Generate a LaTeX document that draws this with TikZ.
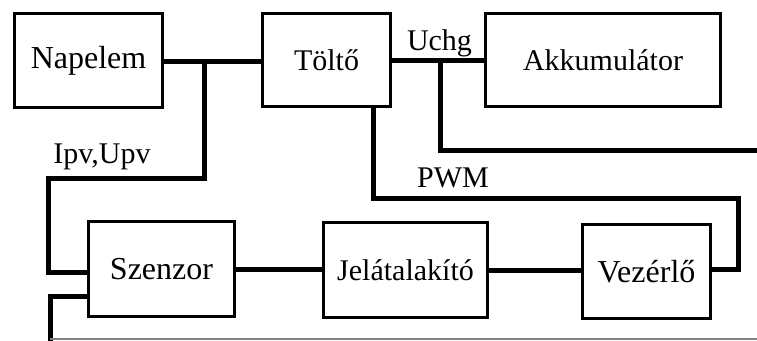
\documentclass[tikz,border=0pt]{standalone}
\usepackage{fontspec}
\setmainfont{Liberation Serif}
\begin{document}
\begin{tikzpicture}[x=1pt,y=-1pt,
  block/.style={draw=black,line width=3pt,rectangle,inner sep=0pt,
    font=\fontsize{30}{32}\selectfont},
  bigtext/.style={font=\fontsize{32}{34}\selectfont},
  wire/.style={line width=5pt,line join=miter,line cap=butt},
  lbl/.style={anchor=base,inner sep=0pt,font=\fontsize{30}{32}\selectfont}]
\useasboundingbox (0,0) rectangle (757,340);
\clip (0,0) rectangle (757,340);

% blocks
\node[block,bigtext,minimum width=148pt,minimum height=94pt] (nap) at (88.5,60.5) {Napelem};
\node[block,minimum width=128pt,minimum height=93pt] (tol) at (326.5,60) {Töltő};
\node[block,minimum width=235pt,minimum height=93pt] (akk) at (603,60) {Akkumulátor};
\node[block,bigtext,minimum width=146pt,minimum height=95pt] (szen) at (161.5,269) {Szenzor};
\node[block,minimum width=164pt,minimum height=95pt] (jel) at (405.5,270) {Jelátalakító};
\node[block,bigtext,minimum width=128pt,minimum height=94pt] (vez) at (646.5,271.5) {Vezérlő};

% junction and bend points
\coordinate (j1) at (204,61);
\coordinate (b1) at (204,178);
\coordinate (b2) at (48,178);
\coordinate (b3) at (48,272);
\coordinate (j2) at (440,60);
\coordinate (b4) at (440,150);
\coordinate (e1) at (760,150);
\coordinate (t1) at (373,108);
\coordinate (b5) at (373,198);
\coordinate (b6) at (738,198);
\coordinate (b7) at (738,269);
\coordinate (m1) at (500,270);
\coordinate (b8) at (50,296);
\coordinate (e2) at (50,345);
\coordinate (g1) at (50,339);
\coordinate (g2) at (760,339);

% connections
\draw[wire] (nap.east |- j1) -- (tol.west |- j1);
\draw[wire] (j1) -- (b1) -- (b2) -- (b3) -- (szen.west |- b3);
\draw[wire] (tol.east |- j2) -- (akk.west |- j2);
\draw[wire] (j2) -- (b4) -- (e1);
\draw[wire] (t1 |- tol.south) -- (b5) -- (b6) -- (b7) -- (vez.east |- b7);
\draw[wire] (szen.east) -- (jel.west |- szen.east);
\draw[wire] (jel.east |- m1) -- (vez.west |- m1);
\draw[wire] (szen.west |- b8) -- (b8) -- (e2);
\draw[gray,line width=1.2pt] (g1) -- (g2);

% signal labels
\node[lbl] (ipv) at (102,163) {Ipv,Upv};
\node[lbl] (uchg) at (439.5,50) {Uchg};
\node[lbl] (pwm) at (453,187) {PWM};
\end{tikzpicture}
\end{document}
